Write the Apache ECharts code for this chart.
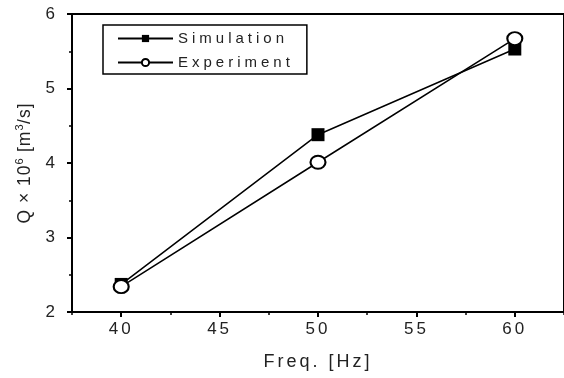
<!DOCTYPE html>
<html><head><meta charset="utf-8">
<script src="https://cdn.jsdelivr.net/npm/echarts@6/dist/echarts.min.js"></script>
<style>html,body{margin:0;padding:0;background:#fff}#c{width:564px;height:378px}</style>
</head><body><div id="c"></div>
<script>
// letter spacing emulation for the widely spaced reference text (keyed by font size)
(function(){
  var spacingBySize = {'17': '3px', '15': '4px', '18': '3px', '17.5': '1px', '11': '0.5px'};
  var d = Object.getOwnPropertyDescriptor(CanvasRenderingContext2D.prototype, 'font');
  if (d && 'letterSpacing' in CanvasRenderingContext2D.prototype) {
    Object.defineProperty(CanvasRenderingContext2D.prototype, 'font', {
      configurable: true,
      get: function(){ return d.get.call(this); },
      set: function(v){
        d.set.call(this, v);
        var m = /(\d+(?:\.\d+)?)px/.exec(String(v));
        this.letterSpacing = (m && spacingBySize[m[1]]) || '0px';
      }
    });
  }
})();

var freq = [40, 50, 60];
var simulation = [2.37, 4.38, 5.53];
var experiment = [2.34, 4.01, 5.67];
var xMajorTicks = [40, 45, 50, 55, 60];
var xMinorTicks = [37.5, 42.5, 47.5, 52.5, 57.5, 62.5];
var seriesNames = ['Simulation', 'Experiment'];

var chart = echarts.init(document.getElementById('c'), null, {renderer: 'canvas'});
var font = 'Liberation Sans, Arial, sans-serif';
var txt = '#222';
chart.setOption({
  animation: false,
  backgroundColor: '#fff',
  grid: {left: 72, right: -2, top: 14, bottom: 66, show: true, borderColor: '#000', borderWidth: 2},
  legend: {
    left: 103, top: 25, orient: 'vertical',
    data: seriesNames,
    itemWidth: 55, itemHeight: 9, itemGap: 5,
    padding: [4, 13, 2, 14],
    borderColor: '#000', borderWidth: 1.5,
    textStyle: {fontFamily: font, fontSize: 15, color: txt}
  },
  xAxis: [{
    type: 'value', min: 37.5, max: 62.5,
    name: 'Freq. [Hz]', nameLocation: 'middle', nameGap: 40,
    nameTextStyle: {fontFamily: font, fontSize: 18, color: txt},
    axisLine: {onZero: false, lineStyle: {color: '#000', width: 2}},
    axisTick: {show: true, customValues: xMajorTicks, length: 5, lineStyle: {color: '#000', width: 2}},
    axisLabel: {customValues: xMajorTicks, fontFamily: font, fontSize: 17, color: txt, margin: 7},
    splitLine: {show: false}
  }, {
    type: 'value', min: 37.5, max: 62.5, position: 'bottom',
    axisLine: {show: false},
    axisTick: {show: true, customValues: xMinorTicks, length: 3, lineStyle: {color: '#000', width: 1.5}},
    axisLabel: {show: false},
    splitLine: {show: false}
  }],
  yAxis: {
    type: 'value', min: 2, max: 6, interval: 1,
    name: 'Q × 10{s|6} [m{s|3}/s]', nameLocation: 'middle', nameGap: 35,
    nameTextStyle: {fontFamily: font, fontSize: 17.5, color: txt,
      rich: {s: {fontFamily: font, fontSize: 11, color: txt, verticalAlign: 'top', padding: [0,0,10,0]}}},
    axisLine: {onZero: false, lineStyle: {color: '#000', width: 2}},
    axisTick: {length: 5, lineStyle: {color: '#000', width: 2}},
    minorTick: {show: true, splitNumber: 2, length: 3, lineStyle: {color: '#000', width: 1.5}},
    axisLabel: {fontFamily: font, fontSize: 17, color: txt, margin: 14},
    splitLine: {show: false}
  },
  series: [{
    name: seriesNames[0], type: 'line',
    data: freq.map(function(f, i){ return [f, simulation[i]]; }),
    symbol: 'rect', symbolSize: 13,
    lineStyle: {color: '#000', width: 1.5},
    itemStyle: {color: '#000', borderColor: '#000', borderWidth: 0},
    z: 2
  }, {
    name: seriesNames[1], type: 'line',
    data: freq.map(function(f, i){ return [f, experiment[i]]; }),
    symbol: 'circle', symbolSize: [15, 13],
    lineStyle: {color: '#000', width: 1.5},
    itemStyle: {color: '#fff', borderColor: '#000', borderWidth: 2},
    z: 3
  }]
});
</script></body></html>
